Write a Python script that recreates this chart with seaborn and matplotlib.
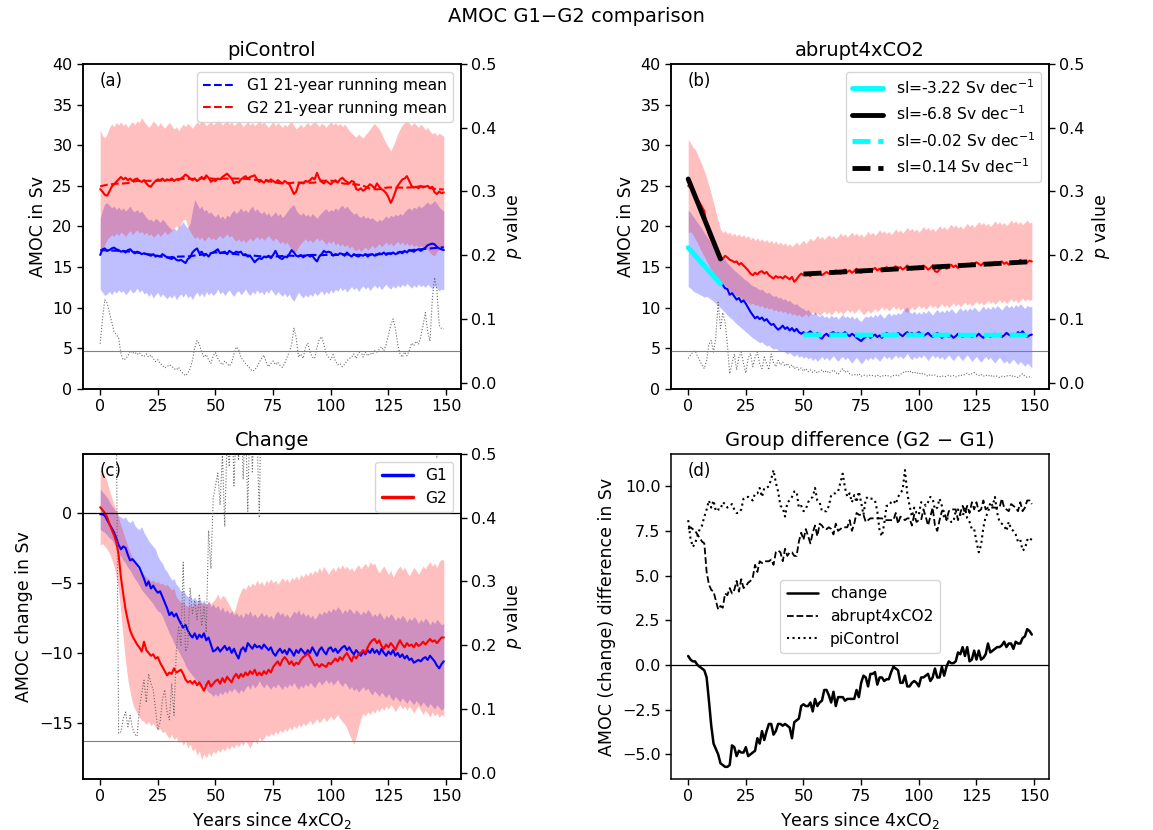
import matplotlib
matplotlib.use("Agg")
import matplotlib.pyplot as plt
import numpy as np
import pandas as pd
import seaborn as sns
from matplotlib.lines import Line2D

years = np.arange(150)

# ---------------- piControl (a) ----------------
ctrl_g1 = [
    16.5, 17.2, 17.3, 17.0, 17.1, 17.3, 17.4, 17.2, 17.1, 16.9,
    17.0, 16.8, 17.1, 17.2, 16.9, 16.7, 16.9, 16.8, 16.6, 16.7,
    16.6, 16.5, 16.4, 16.6, 16.3, 16.4, 16.3, 16.6, 16.4, 16.2,
    16.1, 16.0, 16.2, 15.9, 15.8, 15.9, 15.7, 15.5, 16.0, 16.2,
    16.8, 17.1, 17.3, 16.7, 16.9, 16.4, 16.6, 16.3, 16.7, 16.8,
    17.0, 17.2, 16.7, 16.8, 16.9, 16.6, 17.0, 16.8, 16.7, 16.9,
    16.8, 16.9, 16.5, 16.6, 16.3, 16.4, 16.0, 15.6, 15.9, 16.1,
    16.0, 16.3, 16.2, 16.4, 16.1, 16.5, 17.0, 16.4, 16.1, 16.0,
    16.3, 16.2, 16.6, 17.1, 16.8, 16.4, 16.3, 16.5, 16.2, 16.4,
    16.5, 16.3, 16.4, 16.0, 15.7, 16.3, 16.6, 17.0, 16.8, 16.9,
    16.8, 16.4, 16.6, 16.5, 16.7, 16.6, 16.4, 16.8, 16.5, 16.3,
    16.6, 16.4, 16.3, 16.5, 16.4, 16.6, 16.3, 16.5, 16.6, 16.4,
    16.5, 16.7, 16.6, 16.8, 16.5, 16.7, 16.6, 16.8, 16.6, 16.7,
    16.9, 16.7, 17.0, 16.8, 17.1, 17.0, 16.9, 17.1, 17.2, 17.0,
    17.2, 17.4, 17.7, 17.8, 17.9, 17.8, 17.5, 17.3, 17.2, 17.1,
]
ctrl_g2 = [
    24.6, 24.3, 23.9, 23.8, 24.3, 24.9, 25.2, 25.5, 25.8, 26.1,
    25.8, 26.0, 25.7, 25.9, 25.6, 25.8, 25.9, 25.6, 25.5, 25.7,
    25.3, 25.0, 24.9, 25.3, 25.6, 25.8, 25.7, 25.9, 25.6, 25.8,
    25.7, 25.9, 25.6, 25.8, 25.7, 25.9, 26.1, 26.4, 26.2, 25.9,
    25.7, 25.9, 25.6, 25.8, 26.1, 25.8, 26.3, 26.0, 25.5, 25.7,
    25.6, 25.9, 25.8, 26.1, 26.3, 26.5, 26.2, 25.9, 25.3, 25.5,
    25.4, 25.8, 26.0, 26.2, 25.9, 26.1, 26.2, 26.3, 25.8, 25.5,
    25.6, 25.4, 25.7, 25.5, 25.8, 25.6, 25.4, 25.7, 25.5, 25.3,
    25.6, 25.4, 25.2, 24.6, 24.0, 24.3, 25.2, 25.4, 25.3, 25.6,
    25.5, 25.7, 26.0, 25.8, 26.6, 25.9, 25.5, 25.3, 25.6, 25.4,
    25.2, 25.5, 25.7, 25.4, 25.8, 26.0, 25.7, 25.5, 25.3, 25.6,
    25.5, 24.6, 24.5, 24.7, 24.4, 24.6, 24.9, 25.2, 25.0, 24.7,
    25.3, 24.9, 24.6, 24.4, 24.1, 23.6, 22.9, 23.5, 24.3, 25.0,
    25.4, 25.8, 25.9, 26.2, 25.6, 25.0, 24.8, 24.9, 24.7, 25.0,
    24.8, 24.9, 25.0, 24.7, 24.9, 24.2, 24.0, 24.3, 24.1, 24.2,
]
ctrl_g1_lo = [
    12.3, 11.9, 11.5, 11.7, 12.0, 11.6, 12.1, 11.8, 12.2, 11.9,
    12.1, 11.6, 11.9, 12.3, 11.8, 12.0, 12.4, 11.9, 12.2, 11.7,
    11.9, 11.4, 11.8, 11.2, 11.6, 11.9, 11.3, 11.7, 11.4, 11.1,
    11.5, 11.2, 11.6, 11.0, 11.4, 11.7, 11.3, 11.8, 11.2, 11.5,
    11.0, 11.6, 11.9, 11.4, 11.8, 11.3, 12.0, 11.6, 11.9, 11.5,
    11.8, 12.3, 11.7, 12.0, 11.5, 11.9, 12.2, 11.7, 11.4, 11.9,
    12.1, 11.6, 11.9, 12.3, 11.8, 11.5, 12.0, 11.7, 12.2, 11.8,
    12.0, 11.6, 12.1, 11.8, 12.3, 11.9, 11.5, 12.0, 11.7, 11.4,
    11.8, 11.3, 11.7, 11.1, 10.8, 11.4, 11.9, 11.5, 11.2, 11.6,
    11.3, 11.7, 11.4, 11.9, 11.5, 11.8, 12.1, 11.6, 12.0, 11.7,
    12.2, 11.8, 12.3, 12.0, 12.5, 12.1, 12.4, 11.9, 12.3, 12.6,
    12.2, 12.5, 12.0, 12.4, 12.7, 12.3, 12.6, 12.1, 12.5, 12.8,
    12.4, 12.7, 12.2, 12.6, 12.9, 12.5, 12.3, 12.7, 12.4, 12.8,
    12.5, 12.9, 12.6, 13.0, 12.7, 12.4, 12.8, 12.5, 12.9, 12.6,
    12.8, 12.5, 12.9, 12.6, 12.3, 12.7, 12.4, 12.1, 12.3, 12.2,
]
ctrl_g1_hi = [
    21.0, 22.0, 22.8, 22.9, 22.6, 22.3, 22.5, 22.1, 22.4, 22.0,
    22.3, 21.9, 22.2, 22.5, 22.0, 21.8, 22.1, 21.7, 21.9, 21.5,
    21.1, 20.8, 20.9, 20.6, 21.0, 20.8, 20.5, 20.9, 20.6, 20.2,
    19.9, 19.6, 19.8, 19.5, 19.9, 20.2, 20.6, 20.1, 19.8, 20.4,
    22.0, 23.3, 22.8, 22.2, 22.5, 21.9, 22.1, 21.6, 21.8, 21.4,
    21.2, 21.6, 21.0, 21.3, 20.9, 21.4, 21.2, 21.7, 22.0, 21.6,
    21.9, 22.3, 21.8, 22.1, 21.7, 22.2, 22.5, 21.9, 22.2, 21.8,
    21.6, 21.9, 21.4, 21.7, 21.2, 21.5, 21.8, 21.3, 21.6, 21.1,
    21.4, 21.8, 22.2, 22.5, 22.7, 22.0, 21.6, 21.4, 21.7, 21.3,
    21.5, 21.2, 21.6, 21.3, 21.0, 21.4, 21.7, 22.0, 22.2, 21.8,
    22.1, 21.9, 22.3, 22.0, 22.4, 22.6, 22.2, 22.5, 22.1, 21.8,
    21.5, 21.7, 21.3, 21.1, 21.4, 21.0, 21.2, 20.9, 21.1, 20.8,
    20.6, 20.9, 20.7, 21.0, 21.3, 21.0, 21.4, 21.2, 21.5, 21.3,
    21.6, 21.4, 21.8, 22.1, 22.3, 22.0, 22.4, 22.2, 22.6, 22.3,
    22.5, 22.8, 23.0, 22.7, 22.9, 23.2, 22.8, 22.4, 22.1, 21.9,
]
ctrl_g2_lo = [
    16.6, 17.3, 17.8, 18.4, 18.7, 19.0, 18.8, 19.2, 18.9, 19.3,
    19.1, 18.8, 19.2, 19.5, 19.0, 19.3, 19.6, 19.2, 19.4, 19.0,
    19.3, 18.9, 19.1, 18.7, 18.9, 19.2, 18.8, 19.1, 19.4, 19.0,
    19.2, 19.5, 19.8, 20.1, 19.7, 20.3, 20.8, 20.9, 19.9, 19.4,
    18.9, 18.5, 18.8, 18.4, 18.7, 18.2, 18.5, 18.8, 18.4, 18.6,
    18.3, 18.7, 18.9, 18.5, 18.8, 19.1, 18.7, 18.9, 18.4, 18.2,
    18.5, 18.1, 18.4, 18.0, 18.3, 18.6, 18.2, 18.5, 18.8, 18.4,
    18.7, 18.3, 18.6, 18.9, 18.5, 18.2, 18.6, 18.3, 17.9, 18.2,
    17.8, 18.1, 17.6, 17.2, 16.7, 17.0, 17.5, 17.9, 18.2, 18.5,
    18.1, 18.4, 18.0, 18.3, 18.6, 18.2, 18.5, 18.1, 17.8, 18.2,
    17.9, 18.3, 17.7, 18.0, 17.6, 17.9, 17.5, 17.8, 17.3, 17.6,
    17.2, 17.0, 17.3, 16.9, 17.2, 17.5, 17.1, 17.4, 17.7, 17.3,
    17.6, 17.9, 17.5, 17.8, 18.1, 17.7, 18.0, 17.6, 17.9, 18.2,
    17.8, 18.1, 17.7, 18.0, 17.6, 17.9, 17.5, 17.8, 17.4, 17.7,
    17.3, 17.6, 17.1, 16.8, 16.5, 16.4, 16.9, 17.2, 17.0, 17.3,
]
ctrl_g2_hi = [
    31.9, 31.2, 30.9, 31.4, 32.2, 32.6, 32.3, 32.8, 32.5, 32.9,
    32.4, 32.7, 32.2, 32.6, 32.9, 32.5, 33.0, 32.8, 33.4, 32.9,
    32.6, 32.2, 32.5, 33.0, 32.7, 32.3, 32.8, 32.4, 32.1, 32.5,
    32.8, 32.4, 32.0, 32.3, 31.8, 32.2, 32.6, 32.3, 32.7, 32.4,
    32.1, 32.5, 32.9, 32.6, 33.1, 32.8, 32.4, 32.7, 32.9, 32.5,
    32.8, 33.2, 32.9, 32.5, 32.8, 33.0, 32.6, 32.9, 32.4, 32.7,
    33.0, 32.7, 32.3, 32.6, 32.9, 32.5, 32.8, 32.4, 32.7, 33.0,
    32.6, 32.9, 32.5, 32.2, 32.6, 32.9, 32.4, 32.8, 32.5, 32.2,
    32.6, 32.3, 32.7, 32.9, 32.4, 32.0, 32.3, 32.6, 32.2, 32.5,
    32.8, 32.4, 32.7, 33.0, 32.6, 32.3, 32.7, 32.5, 32.2, 32.6,
    32.9, 32.5, 32.8, 32.4, 32.7, 32.3, 32.6, 32.2, 31.8, 31.5,
    31.2, 31.0, 31.4, 31.1, 30.9, 31.3, 31.6, 32.0, 32.4, 32.7,
    32.3, 32.0, 31.4, 30.8, 30.2, 29.8, 29.3, 29.9, 30.6, 31.4,
    32.0, 32.5, 32.8, 33.1, 32.7, 32.4, 32.8, 32.5, 32.2, 32.6,
    32.3, 31.9, 32.2, 31.7, 31.4, 31.6, 31.2, 31.5, 31.3, 31.1,
]
ctrl_p = [
    0.061, 0.100, 0.130, 0.125, 0.110, 0.095, 0.080, 0.075, 0.070, 0.045,
    0.036, 0.037, 0.042, 0.050, 0.046, 0.048, 0.044, 0.047, 0.043, 0.041,
    0.045, 0.040, 0.043, 0.038, 0.033, 0.036, 0.030, 0.027, 0.023, 0.025,
    0.028, 0.026, 0.022, 0.020, 0.024, 0.018, 0.014, 0.011, 0.015, 0.022,
    0.035, 0.055, 0.066, 0.060, 0.048, 0.040, 0.044, 0.036, 0.030, 0.042,
    0.047, 0.038, 0.032, 0.028, 0.034, 0.030, 0.026, 0.031, 0.045, 0.056,
    0.052, 0.040, 0.035, 0.030, 0.026, 0.022, 0.018, 0.020, 0.025, 0.032,
    0.038, 0.043, 0.032, 0.025, 0.030, 0.034, 0.028, 0.032, 0.027, 0.024,
    0.030, 0.040, 0.048, 0.060, 0.086, 0.070, 0.040, 0.045, 0.038, 0.055,
    0.062, 0.048, 0.040, 0.038, 0.055, 0.068, 0.072, 0.060, 0.045, 0.040,
    0.036, 0.044, 0.034, 0.028, 0.030, 0.025, 0.029, 0.034, 0.038, 0.040,
    0.045, 0.038, 0.046, 0.050, 0.040, 0.048, 0.042, 0.046, 0.044, 0.050,
    0.048, 0.052, 0.056, 0.050, 0.060, 0.075, 0.090, 0.100, 0.085, 0.060,
    0.045, 0.040, 0.048, 0.042, 0.050, 0.062, 0.058, 0.065, 0.060, 0.072,
    0.090, 0.110, 0.080, 0.065, 0.130, 0.165, 0.145, 0.090, 0.085, 0.084,
]

# ---------------- abrupt4xCO2 (b) ----------------
abr_g1 = [
    17.4, 17.1, 16.8, 16.4, 16.1, 15.8, 15.5, 15.1, 14.8, 14.5,
    14.2, 13.9, 13.6, 13.3, 12.9, 12.8, 12.4, 12.3, 11.6, 11.8,
    11.4, 11.0, 11.2, 10.7, 10.9, 10.5, 10.0, 9.5, 9.1, 8.7,
    8.9, 8.6, 8.8, 8.4, 8.6, 8.2, 7.9, 8.0, 7.6, 7.3,
    7.5, 7.8, 7.4, 7.6, 7.2, 7.5, 7.1, 7.4, 7.0, 6.8,
    7.0, 6.7, 6.9, 7.1, 6.8, 6.6, 6.9, 6.4, 6.2, 6.6,
    6.8, 6.5, 6.9, 7.0, 6.7, 6.9, 6.6, 6.8, 7.0, 6.7,
    6.5, 6.8, 6.6, 6.3, 6.1, 5.9, 6.2, 6.4, 6.6, 6.3,
    6.5, 6.7, 6.4, 6.6, 6.3, 6.6, 6.9, 6.7, 6.5, 6.8,
    6.6, 6.9, 6.7, 6.5, 6.8, 7.0, 6.7, 6.9, 6.6, 6.8,
    7.0, 6.8, 6.5, 6.7, 6.9, 6.6, 6.4, 6.7, 6.9, 6.6,
    6.3, 6.5, 6.7, 6.4, 6.6, 6.3, 6.5, 6.8, 6.6, 6.4,
    6.6, 6.5, 6.7, 6.4, 6.6, 6.5, 6.8, 6.5, 6.3, 6.6,
    6.7, 6.4, 6.6, 6.8, 6.5, 6.7, 6.4, 6.6, 6.9, 6.7,
    6.5, 6.8, 6.6, 7.0, 6.8, 7.1, 6.7, 6.4, 6.6, 6.7,
]
abr_g2 = [
    25.0, 24.8, 24.4, 23.9, 23.4, 22.9, 22.4, 21.9, 20.0, 19.0,
    18.4, 18.0, 17.2, 16.4, 16.2, 16.0, 16.4, 16.2, 15.9, 15.8,
    15.6, 15.7, 15.3, 15.5, 15.2, 14.9, 14.6, 14.2, 14.0, 14.3,
    14.1, 14.4, 14.5, 14.2, 14.4, 14.0, 13.8, 13.6, 13.9, 13.7,
    13.8, 13.6, 13.9, 13.7, 13.5, 13.8, 13.2, 13.5, 13.9, 14.2,
    14.0, 14.3, 14.1, 13.9, 14.2, 14.4, 14.1, 14.3, 14.0, 14.2,
    14.4, 14.2, 14.5, 14.3, 14.6, 14.4, 14.2, 14.5, 14.7, 14.4,
    14.6, 14.3, 14.5, 14.8, 14.5, 14.3, 14.6, 14.4, 14.7, 14.5,
    14.7, 14.9, 14.6, 14.8, 14.5, 14.7, 15.0, 14.8, 14.6, 14.9,
    15.1, 14.8, 15.0, 14.7, 14.9, 15.2, 14.9, 14.7, 15.0, 14.8,
    15.1, 14.9, 15.2, 15.0, 14.7, 14.9, 15.2, 14.5, 14.4, 14.7,
    14.9, 15.1, 14.8, 15.0, 15.3, 15.0, 15.2, 14.9, 15.1, 15.3,
    15.1, 15.4, 15.2, 15.5, 15.3, 15.6, 15.4, 15.2, 15.5, 15.3,
    15.5, 15.2, 15.4, 15.6, 15.3, 15.5, 15.7, 15.4, 15.6, 15.3,
    15.5, 15.7, 15.4, 15.6, 15.9, 15.7, 15.5, 15.6, 15.8, 15.7,
]
abr_g1_lo = [
    12.6, 12.4, 12.1, 11.9, 11.8, 11.6, 11.5, 11.3, 11.4, 11.2,
    11.0, 10.8, 10.5, 10.3, 10.0, 9.7, 9.4, 9.1, 8.8, 8.6,
    8.3, 8.0, 7.8, 7.5, 7.3, 7.0, 6.8, 6.5, 6.3, 6.1,
    5.9, 5.7, 5.8, 5.5, 5.3, 5.4, 5.1, 4.9, 5.0, 4.8,
    4.6, 4.8, 4.5, 4.3, 4.5, 4.2, 4.0, 4.3, 3.9, 4.1,
    3.8, 4.0, 3.7, 3.9, 3.5, 3.8, 3.4, 3.7, 4.0, 3.6,
    3.9, 3.5, 3.8, 4.1, 3.7, 3.4, 3.8, 4.0, 3.6, 3.9,
    3.5, 3.2, 3.6, 3.9, 3.5, 3.1, 3.4, 3.8, 3.5, 3.9,
    3.6, 4.0, 3.7, 3.4, 3.8, 4.1, 3.7, 4.0, 3.6, 3.9,
    4.2, 3.8, 4.1, 3.7, 4.0, 4.4, 3.9, 3.6, 4.0, 3.7,
    4.1, 3.8, 4.2, 3.9, 3.5, 3.9, 4.2, 3.8, 4.1, 3.7,
    4.0, 3.6, 3.9, 4.2, 3.8, 3.5, 3.9, 4.2, 3.8, 3.5,
    3.9, 4.2, 3.8, 3.4, 3.7, 4.0, 3.6, 3.3, 3.7, 4.0,
    3.6, 3.9, 3.5, 3.2, 3.6, 3.9, 3.5, 3.2, 3.5, 3.1,
    3.4, 3.7, 3.3, 3.0, 3.4, 3.1, 2.8, 3.2, 2.9, 2.6,
]
abr_g1_hi = [
    22.0, 21.7, 21.3, 20.9, 20.5, 20.1, 19.7, 19.2, 18.8, 18.4,
    18.0, 17.6, 17.2, 16.9, 16.5, 16.2, 15.9, 15.5, 15.2, 14.9,
    14.6, 14.4, 14.1, 13.9, 13.6, 13.4, 13.2, 12.9, 12.7, 12.6,
    12.4, 12.2, 12.3, 12.0, 11.8, 11.9, 11.6, 11.4, 11.5, 11.2,
    11.3, 11.0, 11.1, 10.8, 10.9, 10.6, 10.4, 10.5, 10.2, 10.0,
    9.9, 9.6, 9.8, 9.4, 9.2, 9.5, 9.1, 8.9, 9.2, 8.8,
    9.0, 8.7, 9.1, 8.8, 9.0, 8.6, 8.9, 9.2, 8.8, 9.0,
    8.7, 9.0, 8.6, 8.9, 8.5, 8.3, 8.7, 9.0, 8.8, 9.1,
    8.8, 9.2, 8.9, 9.3, 9.0, 8.7, 9.1, 9.4, 9.0, 9.3,
    9.1, 9.4, 9.2, 9.6, 9.9, 10.1, 9.5, 9.3, 9.6, 9.2,
    9.5, 9.2, 9.6, 9.3, 9.7, 9.4, 9.1, 9.5, 9.8, 9.4,
    9.7, 9.4, 9.8, 9.5, 9.9, 9.6, 9.3, 9.7, 10.0, 9.6,
    9.9, 9.6, 10.0, 9.7, 10.1, 9.8, 9.5, 9.9, 10.2, 9.8,
    10.1, 9.8, 10.2, 9.9, 10.3, 10.0, 9.7, 10.1, 10.4, 10.0,
    10.3, 10.0, 10.4, 10.1, 10.5, 10.2, 9.9, 10.3, 10.1, 10.2,
]
abr_g2_lo = [
    19.2, 19.4, 19.0, 18.5, 18.0, 17.4, 16.8, 16.3, 15.7, 15.2,
    14.7, 14.3, 13.9, 13.6, 13.3, 13.0, 12.8, 12.5, 12.1, 11.9,
    11.7, 11.4, 11.5, 11.2, 11.0, 10.9, 10.6, 10.4, 10.6, 10.3,
    10.4, 10.1, 10.3, 9.9, 10.1, 9.8, 10.0, 9.6, 9.8, 9.5,
    9.7, 9.4, 9.6, 9.2, 9.5, 9.1, 9.3, 9.0, 9.2, 8.9,
    9.0, 9.3, 8.9, 9.2, 9.5, 9.1, 9.4, 9.0, 9.3, 9.6,
    9.2, 9.5, 9.1, 9.4, 9.7, 9.3, 9.6, 9.2, 9.5, 9.8,
    9.4, 9.7, 9.3, 9.6, 9.9, 9.5, 9.1, 9.4, 9.7, 9.3,
    9.6, 9.9, 9.5, 9.8, 10.1, 9.7, 10.0, 9.6, 9.9, 10.2,
    9.8, 10.1, 9.7, 10.0, 9.6, 9.4, 9.8, 10.1, 9.7, 10.0,
    10.3, 9.9, 10.2, 9.8, 10.1, 10.4, 10.0, 10.3, 9.9, 10.2,
    10.5, 10.1, 10.4, 10.0, 10.3, 10.6, 10.2, 10.5, 10.1, 10.4,
    10.7, 10.3, 10.6, 10.2, 10.5, 10.8, 10.4, 10.7, 10.3, 10.6,
    10.9, 10.5, 10.8, 10.4, 10.7, 11.0, 10.6, 10.9, 10.5, 10.8,
    11.1, 10.7, 11.0, 10.6, 10.9, 11.2, 10.8, 11.1, 10.9, 11.0,
]
abr_g2_hi = [
    30.7, 30.3, 29.8, 29.5, 28.9, 28.2, 27.6, 26.8, 26.0, 25.0,
    24.0, 22.9, 21.8, 20.7, 19.7, 19.2, 19.5, 19.1, 19.3, 18.9,
    19.2, 18.8, 19.1, 18.7, 19.0, 18.6, 18.9, 18.4, 18.7, 18.3,
    18.6, 18.2, 18.5, 18.1, 18.4, 18.0, 18.3, 17.9, 18.2, 17.8,
    18.1, 17.7, 18.0, 17.6, 17.9, 17.5, 17.8, 18.1, 17.7, 18.0,
    18.3, 17.9, 18.2, 18.6, 18.2, 18.5, 18.9, 18.5, 18.8, 18.4,
    18.7, 19.0, 18.6, 18.9, 18.5, 18.8, 19.2, 18.8, 19.1, 18.7,
    19.0, 19.3, 18.9, 19.2, 18.8, 19.1, 18.7, 19.0, 19.4, 19.0,
    19.3, 18.9, 19.2, 19.6, 19.2, 19.5, 19.1, 19.4, 19.0, 19.3,
    19.7, 19.3, 19.6, 19.2, 19.5, 19.9, 19.5, 19.8, 19.4, 19.7,
    19.3, 19.6, 20.0, 19.6, 19.9, 19.5, 19.8, 19.4, 19.7, 20.1,
    19.7, 20.0, 19.6, 19.9, 20.3, 19.9, 20.2, 19.8, 20.1, 19.7,
    20.0, 20.4, 20.0, 20.3, 19.9, 20.2, 20.6, 20.2, 20.5, 20.1,
    20.4, 20.0, 20.3, 20.7, 20.3, 20.6, 20.2, 20.5, 20.1, 20.4,
    20.8, 20.4, 20.7, 20.3, 20.6, 20.2, 20.5, 20.8, 20.4, 20.6,
]
abr_p = [
    0.038, 0.043, 0.048, 0.050, 0.042, 0.035, 0.028, 0.022, 0.035, 0.060,
    0.066, 0.048, 0.072, 0.126, 0.085, 0.110, 0.095, 0.060, 0.014, 0.030,
    0.045, 0.020, 0.040, 0.048, 0.030, 0.015, 0.038, 0.046, 0.025, 0.040,
    0.048, 0.030, 0.022, 0.040, 0.030, 0.020, 0.045, 0.032, 0.025, 0.035,
    0.028, 0.032, 0.026, 0.030, 0.024, 0.028, 0.022, 0.025, 0.020, 0.023,
    0.018, 0.022, 0.017, 0.020, 0.016, 0.019, 0.015, 0.018, 0.020, 0.016,
    0.019, 0.015, 0.017, 0.020, 0.016, 0.013, 0.018, 0.022, 0.016, 0.019,
    0.014, 0.012, 0.013, 0.011, 0.014, 0.010, 0.012, 0.011, 0.010, 0.012,
    0.011, 0.010, 0.012, 0.009, 0.011, 0.010, 0.012, 0.010, 0.009, 0.011,
    0.012, 0.010, 0.013, 0.015, 0.018, 0.016, 0.019, 0.015, 0.017, 0.014,
    0.016, 0.013, 0.015, 0.012, 0.010, 0.013, 0.011, 0.012, 0.010, 0.009,
    0.011, 0.009, 0.010, 0.012, 0.010, 0.011, 0.009, 0.010, 0.012, 0.011,
    0.013, 0.015, 0.012, 0.014, 0.016, 0.013, 0.011, 0.013, 0.010, 0.012,
    0.010, 0.012, 0.009, 0.011, 0.010, 0.008, 0.010, 0.009, 0.011, 0.010,
    0.012, 0.009, 0.010, 0.008, 0.011, 0.014, 0.010, 0.008, 0.009, 0.008,
]
fit_slopes = ["-3.22", "-6.8", "-0.02", "0.14"]

# ---------------- change (c) ----------------
chg_g1 = [
    -0.1, -0.1, -0.2, -0.5, -0.8, -1.1, -1.4, -1.8, -2.3, -2.6,
    -2.4, -2.5, -3.0, -3.4, -3.3, -3.5, -3.7, -3.9, -4.3, -4.7,
    -5.2, -4.9, -5.4, -5.2, -5.5, -5.7, -5.6, -6.0, -6.4, -6.8,
    -7.3, -7.1, -7.4, -7.2, -7.6, -7.9, -8.2, -8.0, -8.4, -8.7,
    -8.9, -8.6, -9.0, -8.7, -8.9, -8.6, -9.1, -8.9, -9.4, -9.9,
    -9.8, -9.6, -9.9, -9.7, -9.5, -9.8, -9.6, -10.0, -9.7, -10.1,
    -10.4, -9.8, -9.6, -9.9, -9.3, -9.5, -9.7, -9.4, -9.6, -9.5,
    -9.7, -9.4, -9.6, -9.8, -9.6, -10.0, -10.2, -9.9, -9.7, -10.0,
    -9.8, -10.1, -9.7, -9.9, -10.2, -9.8, -10.0, -9.7, -9.9, -10.1,
    -9.8, -10.0, -9.6, -9.9, -10.2, -9.8, -9.6, -9.9, -10.1, -9.7,
    -9.6, -9.9, -9.7, -10.0, -9.8, -9.6, -9.5, -9.8, -9.6, -9.9,
    -10.1, -9.8, -10.0, -10.2, -9.9, -10.1, -9.8, -10.0, -9.7, -10.0,
    -9.8, -10.1, -9.7, -10.0, -10.2, -9.9, -10.1, -9.8, -10.2, -10.0,
    -10.3, -10.1, -10.4, -10.2, -10.5, -10.4, -10.7, -10.6, -10.5, -10.6,
    -10.4, -10.3, -10.5, -10.2, -10.4, -10.6, -10.9, -11.1, -10.8, -10.6,
]
chg_g2 = [
    0.4, 0.2, 0.0, -0.3, -0.8, -1.2, -1.6, -2.1, -3.0, -4.6,
    -5.8, -6.9, -7.7, -8.4, -8.8, -9.1, -9.4, -9.6, -9.9, -9.2,
    -9.8, -10.0, -10.2, -10.1, -10.4, -10.3, -10.7, -11.0, -11.3, -11.6,
    -11.4, -11.5, -11.1, -11.4, -11.3, -11.2, -11.5, -11.9, -12.1, -12.0,
    -12.2, -12.0, -12.3, -12.1, -12.4, -12.7, -12.3, -12.0, -12.4, -12.2,
    -12.0, -11.9, -12.2, -11.8, -12.1, -11.7, -11.9, -12.1, -11.7, -11.5,
    -11.8, -11.5, -11.7, -11.4, -11.6, -11.3, -11.5, -11.2, -11.6, -11.4,
    -11.6, -11.3, -11.5, -11.2, -11.4, -11.0, -10.8, -10.6, -10.9, -10.5,
    -10.3, -10.5, -10.8, -10.6, -10.9, -10.7, -10.8, -10.5, -10.3, -10.2,
    -10.0, -10.3, -10.6, -10.9, -10.8, -11.0, -10.8, -10.9, -11.0, -10.7,
    -10.8, -10.6, -10.4, -10.6, -10.3, -10.5, -10.2, -10.0, -10.3, -10.6,
    -10.2, -10.4, -10.1, -10.0, -9.8, -10.0, -9.6, -9.3, -9.1, -9.0,
    -9.3, -9.1, -9.5, -9.7, -9.4, -9.6, -9.3, -9.5, -9.8, -9.4,
    -9.1, -9.4, -9.6, -9.3, -9.5, -9.4, -9.6, -9.3, -9.5, -9.4,
    -9.2, -9.4, -9.2, -9.0, -9.2, -9.1, -9.3, -9.1, -8.9, -8.9,
]
chg_g1_lo = [
    -1.2, -1.3, -1.4, -1.6, -1.8, -1.9, -2.2, -2.5, -2.8, -3.1,
    -3.4, -3.6, -3.9, -4.1, -4.4, -4.7, -4.9, -5.2, -5.5, -5.7,
    -5.9, -6.1, -6.3, -6.5, -6.8, -7.0, -7.1, -7.4, -7.8, -8.2,
    -8.6, -8.9, -9.3, -9.6, -9.9, -10.2, -10.5, -10.9, -11.2, -11.4,
    -11.6, -11.8, -12.0, -12.2, -12.4, -12.3, -12.6, -12.8, -12.9, -13.1,
    -12.9, -13.1, -12.8, -13.0, -12.7, -12.9, -12.6, -12.8, -12.5, -12.7,
    -12.9, -12.6, -12.8, -12.5, -12.3, -12.6, -12.2, -12.5, -12.3, -12.0,
    -12.3, -12.5, -12.2, -12.4, -12.6, -12.3, -12.5, -12.2, -12.4, -12.6,
    -12.3, -12.5, -12.2, -12.4, -12.1, -12.4, -12.6, -12.3, -12.5, -12.2,
    -12.4, -12.1, -12.3, -12.5, -12.2, -12.0, -12.3, -12.1, -11.9, -12.2,
    -12.0, -12.3, -12.1, -11.9, -12.2, -12.4, -12.1, -12.3, -12.6, -12.4,
    -12.7, -12.5, -12.8, -12.6, -12.4, -12.7, -12.5, -12.8, -13.0, -12.7,
    -12.9, -13.1, -12.8, -13.0, -13.2, -12.9, -13.2, -13.4, -13.1, -13.3,
    -13.5, -13.2, -13.4, -13.6, -13.3, -13.5, -13.7, -13.4, -13.6, -13.8,
    -13.5, -13.7, -13.9, -13.6, -13.8, -14.0, -13.7, -13.9, -14.1, -13.9,
]
chg_g1_hi = [
    1.7, 1.5, 1.3, 1.1, 0.8, 0.5, 0.3, 0.0, -0.2, -0.3,
    -0.4, -0.3, -0.6, -0.7, -0.5, -0.9, -1.1, -1.2, -1.0, -1.4,
    -1.7, -2.0, -2.2, -2.4, -2.6, -3.1, -3.4, -3.6, -4.0, -4.2,
    -4.5, -4.8, -4.7, -5.1, -5.3, -5.6, -5.5, -5.8, -6.0, -5.9,
    -6.2, -6.0, -6.3, -6.1, -6.4, -6.2, -6.6, -6.3, -6.7, -6.5,
    -6.8, -6.6, -7.0, -6.7, -7.1, -6.9, -7.2, -7.0, -7.3, -7.1,
    -7.4, -7.2, -7.5, -7.1, -7.3, -7.0, -7.4, -7.2, -7.5, -7.3,
    -7.1, -7.4, -7.2, -7.5, -7.3, -7.6, -7.2, -7.0, -7.3, -7.1,
    -7.4, -7.2, -7.5, -7.3, -7.0, -7.2, -6.9, -7.3, -7.1, -7.4,
    -7.2, -7.5, -7.3, -7.6, -7.4, -7.1, -7.3, -7.0, -7.2, -6.9,
    -7.1, -6.8, -7.0, -6.7, -6.9, -7.2, -6.9, -7.1, -6.8, -7.0,
    -7.2, -6.9, -7.1, -7.3, -7.0, -7.2, -6.9, -7.1, -7.4, -7.2,
    -7.4, -7.1, -7.3, -7.6, -7.3, -7.5, -7.2, -7.4, -7.7, -7.4,
    -7.6, -7.3, -7.5, -7.8, -7.5, -7.7, -7.4, -7.6, -7.9, -7.6,
    -7.8, -7.5, -7.7, -8.0, -7.7, -7.9, -7.6, -7.8, -8.0, -7.9,
]
chg_g2_lo = [
    -2.3, -2.2, -2.4, -2.6, -2.9, -3.3, -3.8, -4.5, -5.6, -7.2,
    -9.0, -10.6, -11.9, -12.8, -13.6, -14.0, -14.3, -14.6, -14.8, -14.9,
    -15.1, -14.9, -15.2, -15.0, -15.3, -15.5, -15.4, -15.7, -15.6, -15.9,
    -16.1, -15.8, -16.2, -16.0, -16.4, -16.2, -16.6, -16.3, -16.8, -16.5,
    -17.0, -16.8, -17.3, -17.0, -17.6, -17.2, -17.5, -17.1, -17.4, -17.0,
    -17.2, -16.9, -17.1, -16.8, -17.0, -16.7, -16.9, -16.6, -16.8, -16.5,
    -16.7, -16.4, -16.6, -16.3, -16.5, -16.8, -16.4, -16.2, -16.5, -16.0,
    -16.3, -16.1, -15.8, -16.0, -15.7, -15.9, -15.6, -15.8, -15.5, -15.7,
    -15.4, -15.6, -15.3, -15.5, -15.2, -15.4, -15.1, -15.3, -15.0, -15.2,
    -15.0, -14.8, -15.1, -14.9, -14.7, -15.0, -14.8, -14.6, -14.9, -14.7,
    -14.5, -14.8, -14.6, -14.4, -14.7, -14.9, -15.1, -15.4, -15.8, -16.2,
    -16.5, -16.0, -15.3, -14.7, -14.3, -14.5, -14.2, -14.4, -14.1, -14.3,
    -14.0, -14.2, -13.9, -14.1, -13.8, -14.0, -13.7, -13.9, -14.2, -13.9,
    -13.7, -14.0, -13.8, -14.1, -13.8, -14.0, -14.3, -14.0, -13.8, -14.1,
    -14.4, -14.1, -14.3, -14.6, -14.2, -14.5, -14.3, -14.6, -14.4, -14.5,
]
chg_g2_hi = [
    3.1, 2.9, 2.7, 2.2, 1.6, 1.1, 0.6, 0.2, -0.4, -0.9,
    -1.4, -1.9, -2.4, -2.8, -3.2, -3.6, -3.9, -4.2, -4.5, -4.4,
    -4.6, -4.7, -4.9, -4.8, -5.0, -4.9, -5.1, -5.0, -5.2, -5.1,
    -5.3, -5.5, -5.4, -6.0, -6.2, -6.4, -6.3, -6.6, -6.7, -6.5,
    -6.7, -6.4, -6.6, -6.3, -6.5, -6.4, -6.6, -6.3, -6.5, -6.3,
    -6.1, -5.8, -6.2, -5.9, -6.0, -6.3, -6.6, -6.9, -7.1, -6.6,
    -6.0, -5.6, -5.3, -5.5, -5.1, -5.3, -5.0, -5.2, -4.8, -5.1,
    -4.9, -5.2, -4.8, -5.0, -4.7, -5.0, -4.8, -5.1, -4.9, -4.6,
    -4.9, -4.7, -5.0, -4.6, -4.8, -4.5, -4.8, -4.4, -4.6, -4.3,
    -4.5, -4.2, -4.4, -4.1, -4.3, -3.9, -4.2, -3.8, -4.1, -4.4,
    -4.1, -3.9, -4.2, -3.8, -4.0, -3.7, -4.0, -3.8, -4.1, -3.9,
    -4.2, -3.9, -3.7, -4.0, -3.8, -3.6, -3.9, -3.5, -3.7, -3.6,
    -4.0, -4.3, -4.0, -3.8, -4.1, -4.4, -4.1, -4.6, -4.3, -4.0,
    -3.8, -4.1, -3.9, -4.2, -4.5, -4.2, -3.9, -4.1, -4.4, -4.1,
    -3.8, -4.0, -3.7, -3.5, -3.8, -3.6, -3.9, -3.5, -3.3, -3.4,
]
chg_p = [
    0.950, 0.900, 0.850, 0.800, 0.750, 0.700, 0.620, 0.550, 0.062, 0.064,
    0.085, 0.095, 0.072, 0.090, 0.070, 0.060, 0.057, 0.100, 0.125, 0.145,
    0.110, 0.155, 0.140, 0.130, 0.100, 0.067, 0.080, 0.115, 0.130, 0.095,
    0.083, 0.140, 0.090, 0.190, 0.230, 0.200, 0.330, 0.190, 0.200, 0.290,
    0.250, 0.270, 0.240, 0.280, 0.230, 0.260, 0.220, 0.380, 0.320, 0.430,
    0.450, 0.470, 0.420, 0.500, 0.386, 0.520, 0.480, 0.600, 0.450, 0.550,
    0.490, 0.600, 0.460, 0.560, 0.410, 0.580, 0.470, 0.620, 0.530, 0.400,
    0.650, 0.700, 0.680, 0.750, 0.720, 0.800, 0.780, 0.760, 0.820, 0.790,
    0.850, 0.830, 0.800, 0.860, 0.840, 0.880, 0.900, 0.870, 0.850, 0.890,
    0.910, 0.880, 0.860, 0.900, 0.920, 0.890, 0.870, 0.910, 0.930, 0.900,
    0.880, 0.920, 0.940, 0.910, 0.890, 0.930, 0.950, 0.920, 0.900, 0.940,
    0.960, 0.930, 0.910, 0.950, 0.970, 0.940, 0.920, 0.960, 0.980, 0.950,
    0.930, 0.970, 0.990, 0.960, 0.940, 0.980, 0.950, 0.930, 0.970, 0.990,
    0.960, 0.940, 0.980, 0.950, 0.920, 0.960, 0.900, 0.870, 0.840, 0.800,
    0.760, 0.720, 0.680, 0.640, 0.600, 0.560, 0.495, 0.550, 0.600, 0.650,
]

# ---------------- style ----------------
sns.set_theme(style="ticks", rc={
    "axes.edgecolor": "black", "axes.labelcolor": "black", "text.color": "black",
    "xtick.color": "black", "ytick.color": "black", "axes.linewidth": 1.1,
    "xtick.major.size": 4, "ytick.major.size": 4,
    "xtick.major.width": 1.0, "ytick.major.width": 1.0,
})
plt.rcParams["font.family"] = ["DejaVu Sans"]
plt.rcParams["axes.unicode_minus"] = True

TICK_FS = 11.5
LAB_FS = 12.5
TITLE_FS = 14
LEG_FS = 11.2
BAND_ALPHA = 0.25

W, H = 1153, 830
fig = plt.figure(figsize=(W / 100, H / 100), dpi=100)


def box(l, r, t, b):
    return [l / W, 1 - b / H, (r - l) / W, (b - t) / H]


def draw_groups(ax, groups):
    # shading first (blue under red), then the group means on top
    for lo, hi, mean, color in groups:
        ax.fill_between(years, lo, hi, color=color, alpha=BAND_ALPHA, lw=0)
    for lo, hi, mean, color in groups:
        sns.lineplot(x=years, y=mean, ax=ax, color=color, lw=1.5, legend=False)


def add_pvalue(ax, p):
    ax2 = ax.twinx()
    sns.lineplot(x=years, y=p, ax=ax2, color="dimgray", lw=0.8,
                 linestyle=":", legend=False)
    ax2.axhline(0.05, color="gray", lw=0.8)
    ax2.set_ylim(-0.01, 0.5)
    ax2.set_yticks([0.0, 0.1, 0.2, 0.3, 0.4, 0.5])
    ax2.set_ylabel("$p$ value", fontsize=LAB_FS)
    ax2.tick_params(labelsize=TICK_FS)
    return ax2


def finish(ax, letter, title, ylabel, xlabel=None):
    ax.set_xticks(range(0, 151, 25))
    ax.set_xlim(-7.45, 156.45)
    ax.set_title(title, fontsize=TITLE_FS)
    ax.set_ylabel(ylabel, fontsize=LAB_FS)
    ax.set_xlabel(xlabel if xlabel else "", fontsize=LAB_FS)
    ax.tick_params(labelsize=TICK_FS)
    ax.text(0.045, 0.975, letter, transform=ax.transAxes, va="top",
            ha="left", fontsize=12)


# (a) piControl
ax_a = fig.add_axes(box(83, 461, 64, 389))
draw_groups(ax_a, [(ctrl_g1_lo, ctrl_g1_hi, ctrl_g1, "blue"),
                   (ctrl_g2_lo, ctrl_g2_hi, ctrl_g2, "red")])
rm_g1 = pd.Series(ctrl_g1).rolling(21, center=True, min_periods=1).mean()
rm_g2 = pd.Series(ctrl_g2).rolling(21, center=True, min_periods=1).mean()
sns.lineplot(x=years, y=rm_g1.values, ax=ax_a, color="blue", lw=1.5,
             linestyle="--", legend=False)
sns.lineplot(x=years, y=rm_g2.values, ax=ax_a, color="red", lw=1.5,
             linestyle="--", legend=False)
ax_a.set_ylim(0, 40)
ax_a.set_yticks(range(0, 41, 5))
ax_a.legend(handles=[
    Line2D([], [], color="blue", lw=1.5, ls="--", label="G1 21-year running mean"),
    Line2D([], [], color="red", lw=1.5, ls="--", label="G2 21-year running mean"),
], loc="upper right", fontsize=LEG_FS)
finish(ax_a, "(a)", "piControl", "AMOC in Sv")
add_pvalue(ax_a, ctrl_p)

# (b) abrupt4xCO2
ax_b = fig.add_axes(box(671, 1049, 64, 389))
draw_groups(ax_b, [(abr_g1_lo, abr_g1_hi, abr_g1, "blue"),
                   (abr_g2_lo, abr_g2_hi, abr_g2, "red")])
early = slice(0, 15)
late = slice(50, 150)
fit_specs = [
    (abr_g1, early, "cyan", "-"),
    (abr_g2, early, "black", "-"),
    (abr_g1, late, "cyan", "--"),
    (abr_g2, late, "black", "--"),
]
fit_handles = []
for (series, seg, col, ls), slope in zip(fit_specs, fit_slopes):
    coef = np.polyfit(years[seg], np.asarray(series)[seg], 1)
    sns.lineplot(x=years[seg], y=np.polyval(coef, years[seg]), ax=ax_b,
                 color=col, lw=3.5, linestyle=ls, legend=False)
    fit_handles.append(Line2D([], [], color=col, lw=3.5, ls=ls,
                              label=f"sl={slope} Sv dec$^{{-1}}$"))
ax_b.set_ylim(0, 40)
ax_b.set_yticks(range(0, 41, 5))
ax_b.legend(handles=fit_handles, loc="upper right", fontsize=LEG_FS)
finish(ax_b, "(b)", "abrupt4xCO2", "AMOC in Sv")
add_pvalue(ax_b, abr_p)

# (c) change
ax_c = fig.add_axes(box(83, 461, 454, 779))
draw_groups(ax_c, [(chg_g1_lo, chg_g1_hi, chg_g1, "blue"),
                   (chg_g2_lo, chg_g2_hi, chg_g2, "red")])
ax_c.axhline(0, color="black", lw=0.9)
ax_c.set_ylim(-19.0, 4.2)
ax_c.legend(handles=[
    Line2D([], [], color="blue", lw=2.5, label="G1"),
    Line2D([], [], color="red", lw=2.5, label="G2"),
], loc="upper right", fontsize=LEG_FS)
finish(ax_c, "(c)", "Change", "AMOC change in Sv", "Years since 4xCO$_2$")
add_pvalue(ax_c, chg_p)

# (d) group difference
ax_d = fig.add_axes(box(671, 1049, 454, 779))
diff_change = np.asarray(chg_g2) - np.asarray(chg_g1)
diff_abrupt = np.asarray(abr_g2) - np.asarray(abr_g1)
diff_ctrl = np.asarray(ctrl_g2) - np.asarray(ctrl_g1)
sns.lineplot(x=years, y=diff_change, ax=ax_d, color="black", lw=1.8,
             label="change")
sns.lineplot(x=years, y=diff_abrupt, ax=ax_d, color="black", lw=1.3,
             linestyle="--", label="abrupt4xCO2")
sns.lineplot(x=years, y=diff_ctrl, ax=ax_d, color="black", lw=1.5,
             linestyle=":", label="piControl")
ax_d.axhline(0, color="black", lw=0.9)
ax_d.set_ylim(-6.38, 11.8)
ax_d.set_yticks([-5.0, -2.5, 0.0, 2.5, 5.0, 7.5, 10.0])
ax_d.legend(loc="center", fontsize=LEG_FS)
finish(ax_d, "(d)", "Group difference (G2 \u2212 G1)",
       "AMOC (change) difference in Sv", "Years since 4xCO$_2$")

fig.text(0.5, 0.992, "AMOC G1\u2212G2 comparison", ha="center", va="top",
         fontsize=TITLE_FS)

fig.savefig("out.png", dpi=100)
